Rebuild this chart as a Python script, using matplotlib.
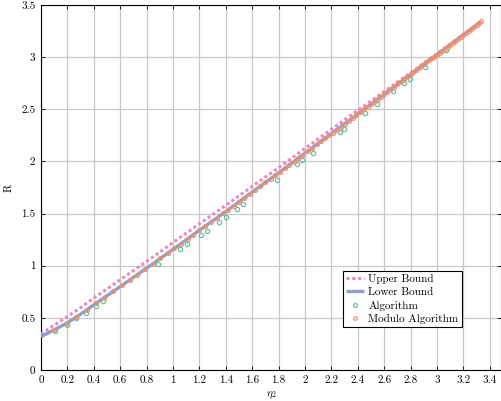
import matplotlib
matplotlib.use("Agg")
import matplotlib.pyplot as plt
from matplotlib.ticker import FuncFormatter, MultipleLocator

plt.rcParams['font.family'] = ['cmr10', 'DejaVu Serif']
plt.rcParams['mathtext.fontset'] = 'cm'
plt.rcParams['axes.formatter.use_mathtext'] = True

# ---- data ----
x_bound = [0.0, 0.1, 0.2, 0.3, 0.4, 0.5, 0.6, 0.7, 0.8, 0.9, 1.0, 1.2, 1.4, 1.6,
           1.8, 2.0, 2.2, 2.4, 2.6, 2.8, 3.0, 3.2, 3.335]
upper_bound = [0.345, 0.43, 0.512, 0.598, 0.69, 0.777, 0.865, 0.953, 1.041, 1.131,
               1.222, 1.402, 1.578, 1.761, 1.94, 2.125, 2.308, 2.49, 2.67, 2.85,
               3.033, 3.218, 3.343]
lower_bound = [0.32, 0.385, 0.452, 0.535, 0.625, 0.712, 0.800, 0.888, 0.976, 1.066,
               1.157, 1.340, 1.520, 1.706, 1.890, 2.080, 2.268, 2.455, 2.645, 2.835,
               3.025, 3.215, 3.343]

alg_x = [0.106, 0.195, 0.265, 0.34, 0.417, 0.47, 0.889, 1.053, 1.108, 1.21, 1.255,
         1.348, 1.404, 1.487, 1.533, 1.785, 1.937, 1.975, 2.058, 2.265, 2.298,
         2.455, 2.545, 2.667, 2.748, 2.793, 2.908, 3.07]
alg_y = [0.374, 0.43, 0.495, 0.55, 0.614, 0.66, 1.02, 1.157, 1.212, 1.292, 1.336,
         1.422, 1.47, 1.543, 1.59, 1.825, 1.972, 2.012, 2.083, 2.279, 2.31,
         2.464, 2.552, 2.672, 2.752, 2.79, 2.909, 3.07]

mod_x = [0.10, 0.20, 0.265, 0.345, 0.415, 0.475, 0.548, 0.616, 0.674, 0.73, 0.788,
         0.85, 0.905, 0.96, 1.01, 1.06, 1.11, 1.155, 1.20, 1.245, 1.29, 1.335, 1.38,
         1.42, 1.46, 1.50, 1.54, 1.58, 1.62, 1.66, 1.70, 1.74, 1.775, 1.81, 1.845,
         1.88, 1.915, 1.95, 1.985, 2.02, 2.055, 2.09, 2.12, 2.15, 2.18, 2.21, 2.24,
         2.27, 2.30, 2.33, 2.36, 2.39, 2.42, 2.45, 2.475, 2.50, 2.525, 2.55, 2.575,
         2.60, 2.625, 2.65, 2.675, 2.70, 2.72, 2.74, 2.76, 2.78, 2.80, 2.82, 2.84,
         2.86, 2.88, 2.90, 2.92, 2.94, 2.96, 2.98, 3.00, 3.02, 3.04, 3.06, 3.08,
         3.10, 3.12, 3.14, 3.16, 3.18, 3.20, 3.22, 3.24, 3.26, 3.28, 3.30, 3.32, 3.335]
mod_y = [0.385, 0.452, 0.506, 0.575, 0.638, 0.690, 0.754, 0.814, 0.865, 0.914, 0.965,
         1.021, 1.071, 1.121, 1.166, 1.212, 1.258, 1.299, 1.340, 1.380, 1.421, 1.461,
         1.502, 1.539, 1.576, 1.613, 1.650, 1.687, 1.724, 1.761, 1.798, 1.835, 1.867,
         1.900, 1.933, 1.966, 1.999, 2.033, 2.066, 2.099, 2.132, 2.165, 2.193, 2.221,
         2.249, 2.277, 2.305, 2.333, 2.361, 2.390, 2.418, 2.446, 2.474, 2.503, 2.526,
         2.550, 2.574, 2.598, 2.621, 2.645, 2.669, 2.693, 2.716, 2.740, 2.759, 2.778,
         2.797, 2.816, 2.835, 2.854, 2.873, 2.892, 2.911, 2.930, 2.949, 2.968, 2.987,
         3.006, 3.025, 3.044, 3.063, 3.082, 3.101, 3.120, 3.139, 3.158, 3.177, 3.196,
         3.215, 3.234, 3.253, 3.272, 3.291, 3.310, 3.329, 3.343]

labels = ['Upper Bound', 'Lower Bound', 'Algorithm', 'Modulo Algorithm']
x_label = r'$\eta_2$'
y_label = 'R'

c_pink, c_blue, c_green, c_orange = '#e78ac3', '#8da0cb', '#66c2a5', '#fc8d62'

fig = plt.figure(figsize=(5.01, 4.01), dpi=100)
ax = fig.add_axes([41 / 501, 31 / 401, 460 / 501, 365 / 401])

ax.plot(x_bound, upper_bound, color=c_pink, lw=2.2, linestyle=(0, (1.0, 0.9)),
        label=labels[0], zorder=3)
ax.plot(x_bound, lower_bound, color=c_blue, lw=2.4, solid_capstyle='butt',
        label=labels[1], zorder=3)
ax.plot(alg_x, alg_y, linestyle='none', marker='o', markersize=3.1,
        markerfacecolor='none', markeredgecolor=c_green, markeredgewidth=0.9,
        label=labels[2], zorder=4)
ax.plot(mod_x, mod_y, linestyle='none', marker='o', markersize=2.8,
        markerfacecolor='none', markeredgecolor=c_orange, markeredgewidth=0.9,
        label=labels[3], zorder=5)

ax.set_xlim(0, 3.485)
ax.set_ylim(0, 3.5)
ax.xaxis.set_major_locator(MultipleLocator(0.2))
ax.yaxis.set_major_locator(MultipleLocator(0.5))
fmt = FuncFormatter(lambda v, p: ('%g' % round(v, 4)))
ax.xaxis.set_major_formatter(fmt)
ax.yaxis.set_major_formatter(fmt)

ax.grid(True, color='#c8c8c8', lw=0.9, zorder=0)
ax.set_axisbelow(True)
ax.tick_params(direction='in', length=3, width=0.6, top=True, right=True,
               labelsize=8, pad=4, colors='black')
for s in ax.spines.values():
    s.set_linewidth(0.8)
    s.set_color('black')

ax.set_xlabel(x_label, fontsize=8, labelpad=3)
ax.set_ylabel(y_label, fontsize=8, labelpad=5)

leg = ax.legend(loc='lower left', bbox_to_anchor=(0.656, 0.117), fontsize=8,
                frameon=True, fancybox=False, framealpha=1, edgecolor='black',
                handlelength=1.6, handletextpad=0.4, labelspacing=0.3,
                borderpad=0.3, borderaxespad=0, markerscale=0.9)
leg.get_frame().set_linewidth(0.8)

fig.savefig('out.png', dpi=100)
